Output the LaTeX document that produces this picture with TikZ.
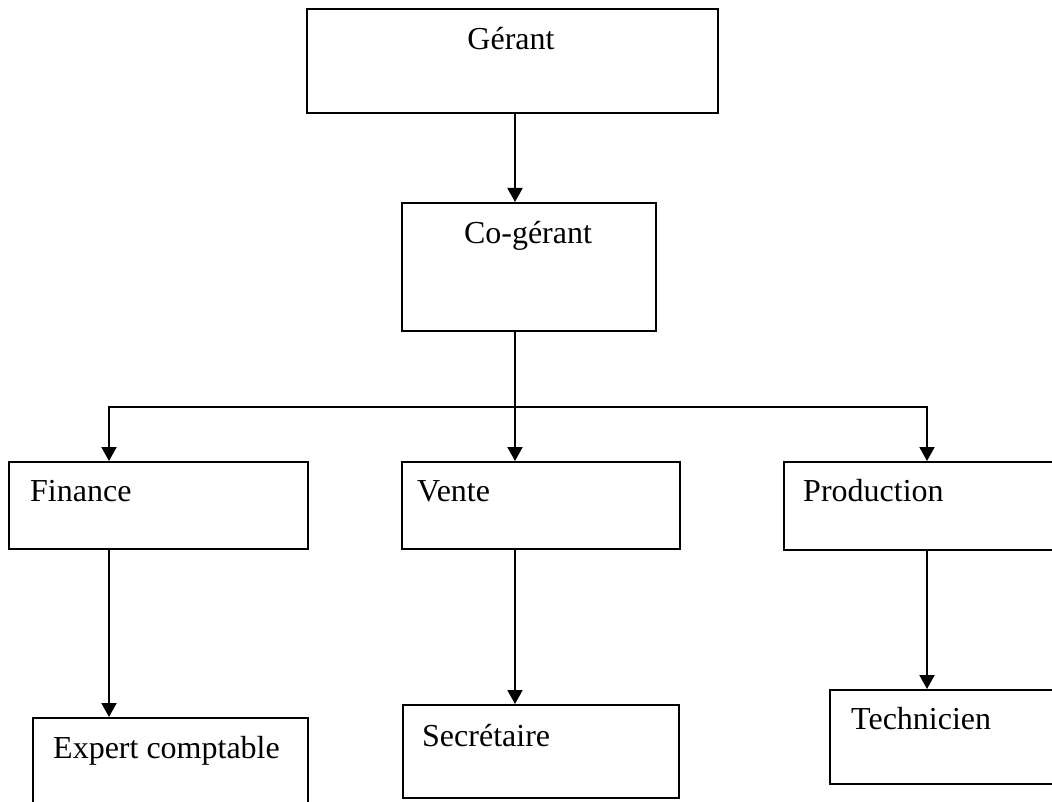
\documentclass[tikz,border=0pt]{standalone}
\usepackage{fontspec}
\setmainfont{Liberation Serif}
\usetikzlibrary{arrows.meta}
\begin{document}
\begin{tikzpicture}[x=1pt,y=-1pt,
  box/.style={draw,line width=2pt,inner sep=0pt,anchor=north west},
  lbl/.style={inner sep=0pt,font=\fontsize{32}{38}\selectfont},
  link/.style={line width=2pt},
  arr/.style={link,-{Triangle[width=15pt,length=14pt]}}]
\useasboundingbox (0,0) rectangle (1052,802);
\clip (0,0) rectangle (1052,802);
% boxes
\node[box,minimum width=411pt,minimum height=104pt] (ger) at (306,8) {};
\node[box,minimum width=254pt,minimum height=128pt] (cog) at (401,202) {};
\node[box,minimum width=299pt,minimum height=87pt] (fin) at (8,461) {};
\node[box,minimum width=278pt,minimum height=87pt] (ven) at (401,461) {};
\node[box,minimum width=290pt,minimum height=88pt] (pro) at (783,461) {};
\node[box,minimum width=275pt,minimum height=110pt] (exp) at (32,717) {};
\node[box,minimum width=276pt,minimum height=93pt] (sec) at (402,704) {};
\node[box,minimum width=250pt,minimum height=94pt] (tec) at (829,689) {};
% labels
\node[lbl,anchor=base] (tger) at (511,50) {Gérant};
\node[lbl,anchor=base] (tcog) at (528,244) {Co-gérant};
\node[lbl,anchor=base west] (tfin) at (30,501) {Finance};
\node[lbl,anchor=base west] (tven) at (417,501) {Vente};
\node[lbl,anchor=base west] (tpro) at (803,501) {Production};
\node[lbl,anchor=base west] (texp) at (53,758) {Expert comptable};
\node[lbl,anchor=base west] (tsec) at (422,746) {Secrétaire};
\node[lbl,anchor=base west] (ttec) at (851,729) {Technicien};
% connectors
\coordinate (bus) at (515,407);
\coordinate (xl) at (109,0);
\coordinate (xr) at (927,0);
\draw[arr] (ger.south -| bus) -- (cog.north -| bus);
\draw[link] (cog.south -| bus) -- (bus);
\draw[arr] (bus) -- (ven.north -| bus);
\draw[arr] (bus) -| (fin.north -| xl);
\draw[arr] (bus) -| (pro.north -| xr);
\draw[arr] (fin.south -| xl) -- (exp.north -| xl);
\draw[arr] (ven.south -| bus) -- (sec.north -| bus);
\draw[arr] (pro.south -| xr) -- (tec.north -| xr);
\end{tikzpicture}
\end{document}
